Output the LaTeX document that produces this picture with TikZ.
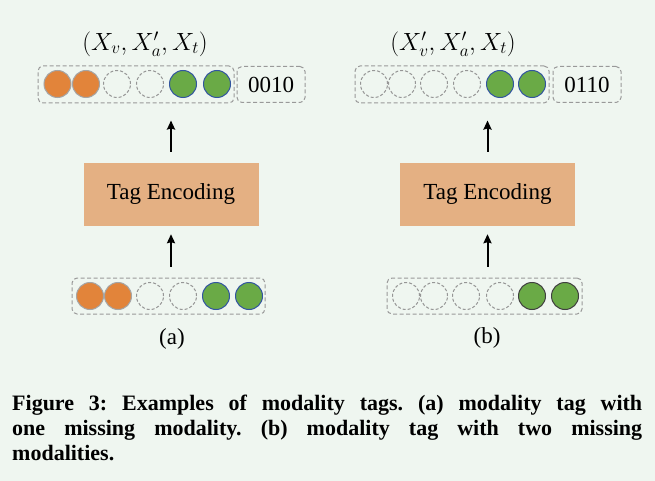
\documentclass[tikz,border=0pt]{standalone}
\usepackage{fontspec}
\setmainfont{Liberation Serif}
\usetikzlibrary{arrows.meta}
\definecolor{bgcol}{RGB}{239,246,240}
\definecolor{orafill}{RGB}{226,132,58}
\definecolor{oraline}{RGB}{165,165,165}
\definecolor{grnfill}{RGB}{106,170,70}
\definecolor{bluline}{RGB}{50,85,160}
\definecolor{gapline}{RGB}{150,150,150}
\definecolor{encfill}{RGB}{228,176,131}
\tikzset{
    token/.style={circle, minimum size=27pt, inner sep=0pt, line width=1pt},
    ora/.style={token, fill=orafill, draw=oraline},
    grn/.style={token, fill=grnfill, draw=bluline},
    grndark/.style={token, fill=grnfill, draw=black!75},
    gap/.style={token, draw=gapline, dash pattern=on 3pt off 2pt},
    group/.style={draw=gray!80, rounded corners=5pt, line width=1pt, dash pattern=on 4pt off 2.5pt, inner sep=0pt, font=\fontsize{23}{27}\selectfont},
    enc/.style={fill=encfill, minimum width=175pt, minimum height=63pt, font=\fontsize{23}{27}\selectfont},
    arr/.style={-{Stealth[length=9pt,width=8pt,inset=1pt]}, line width=2pt}
}
\begin{document}
\begin{tikzpicture}[x=1pt,y=-1pt]
    \fill[bgcol] (0,0) rectangle (655,481);
    \useasboundingbox (0,0) rectangle (655,481);

    % (a) one missing modality
    \node[font=\fontsize{26.5}{30}\selectfont] (vecA) at (145,44) {$(X_v, X'_a, X_t)$};
    \node[group, minimum width=196pt, minimum height=37pt] (rowTa) at (136,84.5) {};
    \node[group, minimum width=68pt, minimum height=36pt] (tagA) at (271,84.5) {0010};
    \foreach \i/\x/\s in {1/57.5/ora, 2/86/ora, 3/117/gap, 4/150/gap, 5/183/grn, 6/217/grn}
        \node[\s] (ta\i) at (\x,84) {};
    \node[enc] (encA) at (171,194.5) {Tag Encoding};
    \node[group, minimum width=193pt, minimum height=36pt] (rowBa) at (168.5,296) {};
    \foreach \i/\x/\s in {1/90/ora, 2/118/ora, 3/150/gap, 4/183/gap, 5/216/grn, 6/249/grn}
        \node[\s] (ba\i) at (\x,296) {};
    \node[font=\fontsize{23}{27}\selectfont] (labA) at (172,339) {(a)};
    \draw[arr, shorten <=11pt, shorten >=8pt] (encA.south |- rowBa.north) -- (encA.south);
    \draw[arr, shorten <=11pt, shorten >=17pt] (encA.north) -- (encA.north |- rowTa.south);

    % (b) two missing modalities
    \node[font=\fontsize{26.5}{30}\selectfont] (vecB) at (453,44) {$(X'_v, X'_a, X_t)$};
    \node[group, minimum width=194pt, minimum height=37pt] (rowTb) at (452,84.5) {};
    \node[group, minimum width=68pt, minimum height=36pt] (tagB) at (587,84.5) {0110};
    \foreach \i/\x/\s in {1/374/gap, 2/402/gap, 3/434/gap, 4/467/gap, 5/500/grn, 6/532/grn}
        \node[\s] (tb\i) at (\x,84) {};
    \node[enc] (encB) at (487.5,194.5) {Tag Encoding};
    \node[group, minimum width=195pt, minimum height=36pt] (rowBb) at (484.5,296) {};
    \foreach \i/\x/\s in {1/406/gap, 2/434/gap, 3/466/gap, 4/500/gap, 5/532/grndark, 6/565/grndark}
        \node[\s] (bb\i) at (\x,296) {};
    \node[font=\fontsize{23}{27}\selectfont] (labB) at (487,338) {(b)};
    \draw[arr, shorten <=11pt, shorten >=8pt] (encB.south |- rowBb.north) -- (encB.south);
    \draw[arr, shorten <=11pt, shorten >=17pt] (encB.north) -- (encB.north |- rowTb.south);

    % caption
    \node[anchor=north west, text width=630pt, align=justify, inner sep=0pt,
          font=\bfseries\fontsize{22}{25}\selectfont] (cap) at (12,395)
        {\frenchspacing Figure 3: Examples of modality tags. (a) modality tag with\linebreak one missing modality. (b) modality tag with two missing\linebreak modalities.};
\end{tikzpicture}
\end{document}
